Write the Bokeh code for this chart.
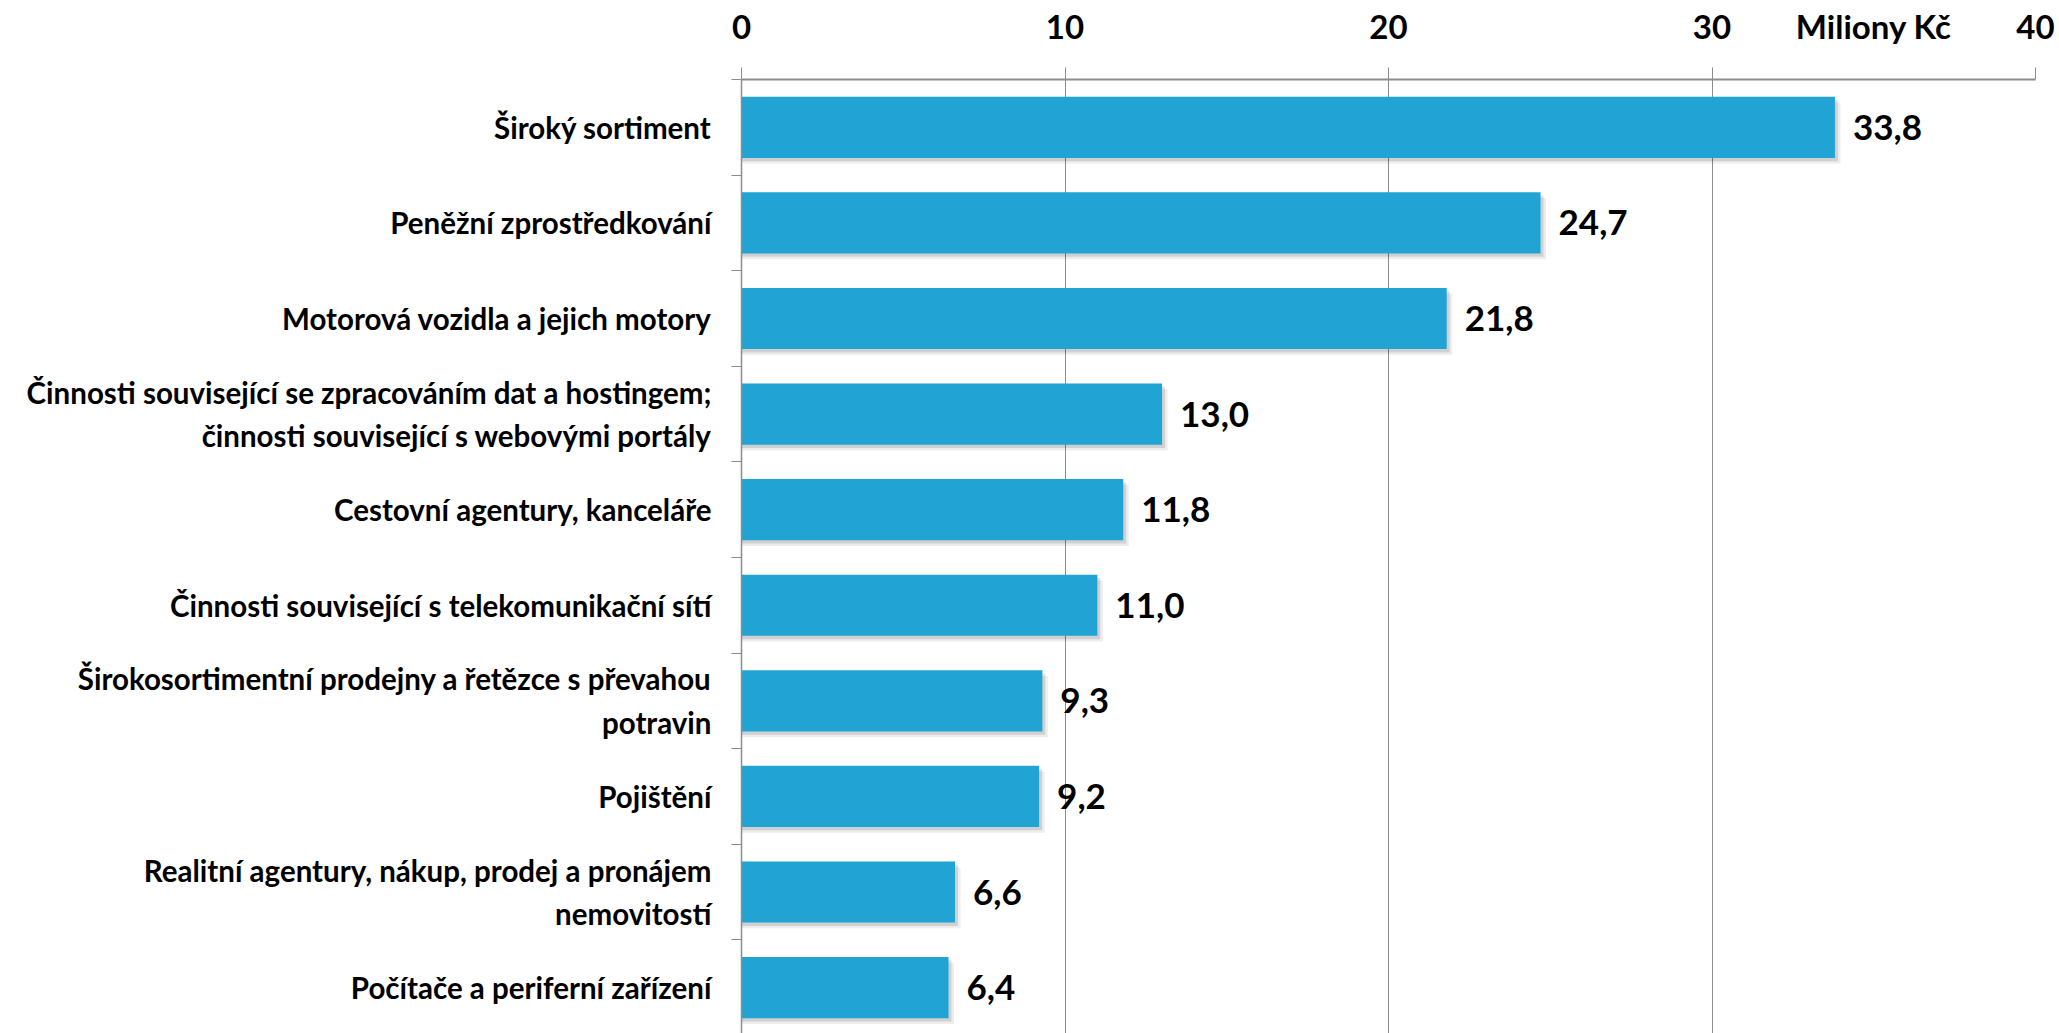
from bokeh.plotting import figure
from bokeh.models import Range1d, FixedTicker, ColumnDataSource
from bokeh.embed import file_html
from bokeh.resources import INLINE
from bokeh.core.properties import value

categories = [
    "Široký sortiment",
    "Peněžní zprostředkování",
    "Motorová vozidla a jejich motory",
    "Činnosti související se zpracováním dat a hostingem;\nčinnosti související s webovými portály",
    "Cestovní agentury, kanceláře",
    "Činnosti související s telekomunikační sítí",
    "Širokosortimentní prodejny a řetězce s převahou\npotravin",
    "Pojištění",
    "Realitní agentury, nákup, prodej a pronájem\nnemovitostí",
    "Počítače a periferní zařízení",
]
values = [33.8, 24.7, 21.8, 13.0, 11.8, 11.0, 9.3, 9.2, 6.6, 6.4]
x_ticks = [0, 10, 20, 30, 40]
unit_label = "Miliony Kč"
unit_pos = 35

FONT = "Lato"
BAR = "#21a3d3"
GRID = "#8c8c8c"

idx = list(range(len(categories)))
labels = [f"{v:.1f}".replace(".", ",") for v in values]

src = ColumnDataSource(dict(
    y=idx,
    v=values,
    lab=labels,
    ys1=[i + 0.035 for i in idx],
    vs1=[v + 0.09 for v in values],
    ys2=[i + 0.06 for i in idx],
    vs2=[v + 0.17 for v in values],
))

p = figure(
    width=2059, height=1033,
    x_range=Range1d(0, 40),
    y_range=Range1d(len(categories) - 0.52, -0.5),
    x_axis_location="above",
    toolbar_location=None,
    output_backend="svg",
    min_border_left=741, min_border_right=24,
    min_border_top=79, min_border_bottom=0,
    outline_line_color=None,
    background_fill_color="white",
    border_fill_color="white",
)

# shadows
p.hbar(y="ys2", left=0, right="vs2", height=0.64, source=src,
       fill_color="black", fill_alpha=0.07, line_color=None)
p.hbar(y="ys1", left=0, right="vs1", height=0.64, source=src,
       fill_color="black", fill_alpha=0.12, line_color=None)
# bars
p.hbar(y="y", left=0, right="v", height=0.64, source=src,
       fill_color=BAR, line_color=None)

# value labels
p.text(x="v", y="y", text="lab", source=src, x_offset=18,
       text_align="left", text_baseline="middle",
       text_font=value(FONT), text_font_style="bold",
       text_font_size="35px", text_color="black")

# x axis (top): major ticks carry the labels (incl. unit), minor ticks draw the marks
xa = p.xaxis[0]
xa.ticker = FixedTicker(ticks=x_ticks + [unit_pos], minor_ticks=x_ticks)
xa.major_label_overrides = {unit_pos: unit_label}
xa.major_label_text_font = FONT
xa.major_label_text_font_style = "bold"
xa.major_label_text_font_size = "33px"
xa.major_label_text_color = "black"
xa.major_label_standoff = 22
xa.major_tick_out = 12
xa.major_tick_in = 0
xa.major_tick_line_color = None
xa.minor_tick_line_color = GRID
xa.minor_tick_out = 12
xa.minor_tick_in = 0
xa.axis_line_color = GRID
xa.axis_line_width = 2

# y axis (left)
ya = p.yaxis[0]
ya.ticker = FixedTicker(ticks=idx, minor_ticks=[i - 0.5 for i in range(len(categories) + 1)])
ya.major_label_overrides = {i: c for i, c in zip(idx, categories)}
ya.major_label_text_font = FONT
ya.major_label_text_font_style = "bold"
ya.major_label_text_font_size = "29.5px"
ya.major_label_text_color = "black"
ya.major_label_text_line_height = 1.25
ya.major_label_standoff = 20
ya.major_tick_line_color = None
ya.major_tick_out = 0
ya.major_tick_in = 0
ya.minor_tick_line_color = GRID
ya.minor_tick_out = 10
ya.minor_tick_in = 0
ya.axis_line_color = GRID
ya.axis_line_width = 1.5

p.xgrid.ticker = FixedTicker(ticks=x_ticks)
p.xgrid.grid_line_color = GRID
p.xgrid.grid_line_width = 1
p.ygrid.visible = False

open("out.html", "w").write(file_html(p, INLINE))
